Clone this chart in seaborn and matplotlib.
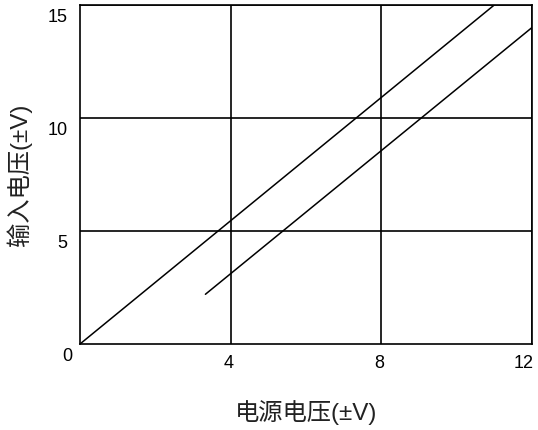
import matplotlib
matplotlib.use("Agg")
import matplotlib.pyplot as plt
import matplotlib.transforms as mtrans
import pandas as pd
import seaborn as sns

# data
supply_a = [0.0, 11.0]
input_a = [0.0, 15.0]
supply_b = [3.33, 12.0]
input_b = [2.2, 14.0]

x_ticks = [4, 8, 12]
y_ticks = [5, 10, 15]
x_label = "电源电压(±V)"
y_label = "输入电压(±V)"

df = pd.concat([
    pd.DataFrame({"supply": supply_a, "input": input_a, "curve": "a"}),
    pd.DataFrame({"supply": supply_b, "input": input_b, "curve": "b"}),
])

sns.set_theme(style="white")
plt.rcParams["font.family"] = ["Liberation Sans", "DejaVu Sans"]
# latin signs from Liberation, hanzi fall back to Noto CJK
lab_font = ["Liberation Sans", "Noto Sans CJK SC"]

fig = plt.figure(figsize=(5.38, 4.3), dpi=100)
ax = fig.add_axes([0.1487, 0.2, 0.84, 0.7884])

sns.lineplot(data=df, x="supply", y="input", units="curve", estimator=None,
             color="black", linewidth=1.1, ax=ax)

ax.set_xlim(0, 12)
ax.set_ylim(0, 15)
ax.set_xticks(x_ticks)
ax.set_yticks(y_ticks)
ax.set_xticklabels([str(t) for t in x_ticks])
ax.set_yticklabels([str(t) for t in y_ticks])
ax.grid(True, color="black", linewidth=1.2)
for s in ax.spines.values():
    s.set_color("black")
    s.set_linewidth(1.2)

ax.tick_params(axis="both", length=0, labelsize=13, colors="black")
ax.tick_params(axis="x", pad=8)
ax.tick_params(axis="y", pad=9)

# y labels sit a little below their grid lines
down = mtrans.ScaledTranslation(0, -11 / 100, fig.dpi_scale_trans)
for lab in ax.get_yticklabels():
    lab.set_transform(lab.get_transform() + down)
x_shift = [-2, -2, -8]
for lab, dx in zip(ax.get_xticklabels(), x_shift):
    lab.set_transform(lab.get_transform() + mtrans.ScaledTranslation(dx / 100, 0, fig.dpi_scale_trans))

# the shared zero at the corner
ax.text(0, 0, "0", fontsize=13, color="black", ha="right", va="top",
        transform=ax.transData + mtrans.ScaledTranslation(-8 / 100, -4 / 100, fig.dpi_scale_trans))

ax.set_xlabel(x_label, fontsize=17.5, family=lab_font, color="#222222", labelpad=20)
ax.set_ylabel(y_label, fontsize=17.5, family=lab_font, color="#222222", labelpad=11)

fig.savefig("out.png", dpi=100)
